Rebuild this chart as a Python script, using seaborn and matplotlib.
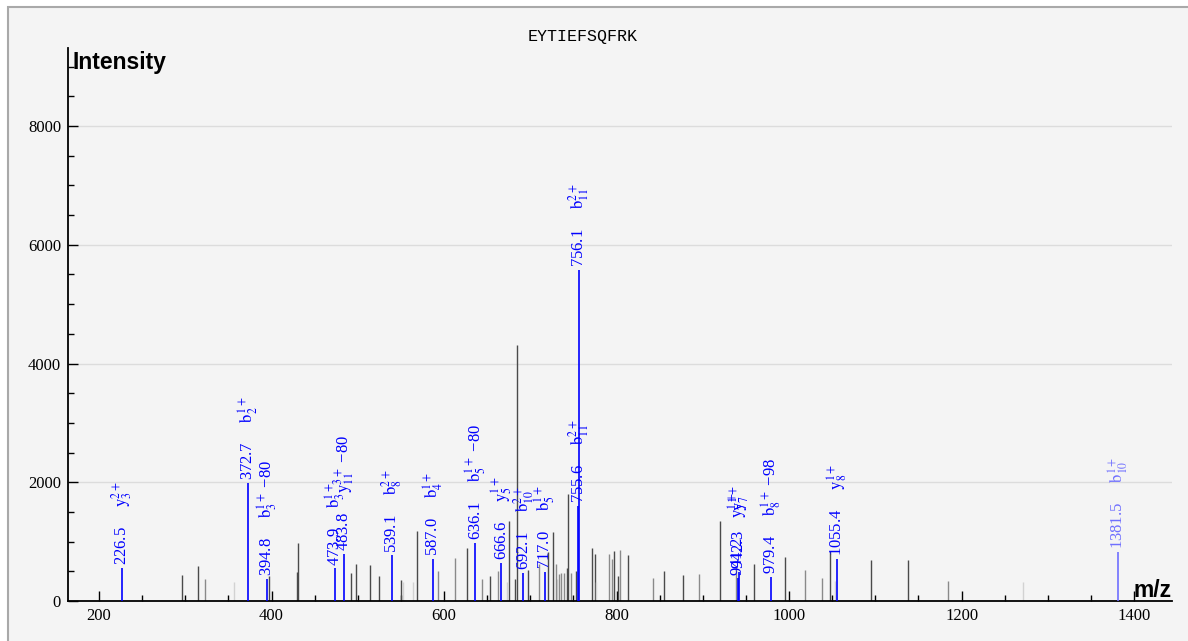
import pandas as pd
import seaborn as sns
from matplotlib import pyplot as plt
from matplotlib.patches import Rectangle
from matplotlib.ticker import MultipleLocator

# annotated fragment ions
ion_mz = [226.5, 372.7, 394.8, 473.9, 483.8, 539.1, 587.0, 636.1, 666.6,
          692.1, 717.0, 755.6, 756.1, 941.2, 942.3, 979.4, 1055.4, 1381.5]
ion_int = [556, 1990, 370, 550, 800, 770, 715, 980, 640,
           470, 495, 1600, 5575, 380, 490, 400, 715, 830]
ion_names = [r"$\mathrm{y}_3^{2+}$", r"$\mathrm{b}_2^{1+}$", r"$\mathrm{b}_3^{1+}$ −80",
             r"$\mathrm{b}_3^{1+}$", r"$\mathrm{y}_{11}^{3+}$ −80", r"$\mathrm{b}_8^{2+}$",
             r"$\mathrm{b}_4^{1+}$", r"$\mathrm{b}_5^{1+}$ −80", r"$\mathrm{y}_5^{1+}$",
             r"$\mathrm{b}_{10}^{2+}$", r"$\mathrm{b}_5^{1+}$", r"$\mathrm{b}_{11}^{2+}$",
             r"$\mathrm{b}_{11}^{2+}$", r"$\mathrm{y}_7^{1+}$", r"$\mathrm{y}_7^{1+}$",
             r"$\mathrm{b}_8^{1+}$ −98", r"$\mathrm{y}_8^{1+}$", r"$\mathrm{b}_{10}^{1+}$"]

# unannotated peaks
peak_mz = [296.6, 314.8, 322.9, 356.0, 397.5, 429.5, 430.7, 492.5, 498.0, 513.8,
           525.0, 550.5, 552.5, 564.4, 569.0, 593.0, 613.0, 626.3, 643.7, 653.7,
           662.3, 673.4, 675.7, 682.3, 685.0, 697.7, 710.1, 721.0, 726.0, 729.5,
           731.4, 733.0, 735.3, 739.0, 742.2, 743.4, 746.8, 752.6, 771.6, 774.7,
           776.6, 791.7, 794.4, 797.5, 802.0, 803.6, 813.7, 842.7, 855.4, 877.5,
           895.7, 920.4, 939.0, 959.8, 995.4, 1018.6, 1038.3, 1047.9, 1053.5, 1094.6,
           1138.4, 1184.0, 1271.0]
peak_int = [433, 585, 371, 326, 416, 490, 977, 472, 629, 601,
            416, 348, 320, 320, 1174, 505, 724, 899, 377, 416,
            505, 325, 1353, 365, 4310, 522, 620, 831, 1168, 617,
            371, 449, 466, 466, 550, 1797, 477, 505, 887, 792,
            325, 792, 702, 848, 421, 860, 775, 393, 505, 432,
            449, 1348, 570, 618, 741, 517, 394, 850, 340, 697,
            685, 337, 320]
peak_shade = ["d", "d", "m", "l", "d", "d", "d", "d", "d", "d",
              "d", "d", "l", "l", "d", "m", "m", "d", "m", "d",
              "m", "l", "d", "d", "d", "d", "m", "d", "d", "m",
              "l", "m", "m", "m", "d", "d", "m", "d", "d", "d",
              "l", "m", "m", "d", "d", "m", "d", "m", "d", "d",
              "m", "d", "m", "d", "d", "m", "m", "d", "l", "d",
              "d", "m", "l"]

ions = pd.DataFrame({"mz": ion_mz, "intensity": ion_int, "name": ion_names})
peaks = pd.DataFrame({"mz": peak_mz, "intensity": peak_int, "shade": peak_shade})
shade_colors = {"d": "#4a4a4a", "m": "#8a8a8a", "l": "#d2d2d2"}

sns.set_style("ticks", {"axes.facecolor": "#f4f4f4", "figure.facecolor": "white"})
plt.rcParams["font.family"] = ["Liberation Serif", "DejaVu Serif"]
plt.rcParams["mathtext.fontset"] = "stix"
plt.rcParams["text.color"] = "black"

W, H = 1188, 641
fig = plt.figure(figsize=(W / 100, H / 100), dpi=100)
fig.add_artist(Rectangle((8 / W, -0.05), 1.1, 1 - 7 / H + 0.05, transform=fig.transFigure,
                         facecolor="#f4f4f4", edgecolor="#a9a9a9", lw=1.5, zorder=-10))

ax = fig.add_axes([68 / W, 40 / H, (1172 - 68) / W, (601 - 48) / H])
ax.set_facecolor("#f4f4f4")

for shade, grp in peaks.groupby("shade"):
    ax.vlines(grp["mz"], 0, grp["intensity"], color=shade_colors[shade], lw=1.0, zorder=2)

for _, r in ions.iterrows():
    col = "#6f6fff" if r["mz"] > 1300 else "blue"
    ax.vlines(r["mz"], 0, r["intensity"], color=col, lw=1.2, zorder=3)
    ax.annotate(f"{r['mz']:.1f}     {r['name']}", xy=(r["mz"], r["intensity"]),
                xytext=(0, 2), textcoords="offset points", rotation=90,
                ha="center", va="bottom", color=col, fontsize=12, zorder=4)

ax.set_xlim(164, 1444)
ax.set_ylim(0, 9314)
ax.set_xticks(range(200, 1401, 200))
ax.set_yticks(range(0, 8001, 2000))
ax.xaxis.set_minor_locator(MultipleLocator(50))
ax.yaxis.set_minor_locator(MultipleLocator(500))
ax.tick_params(which="major", direction="in", length=7, width=1, labelsize=12, pad=5,
               color="black", labelcolor="black")
ax.tick_params(which="minor", direction="in", length=4.5, width=1, color="black")
ax.yaxis.grid(True, color="#dcdcdc", lw=1)
ax.set_axisbelow(True)
sns.despine(ax=ax)
for s in ["left", "bottom"]:
    ax.spines[s].set_color("black")
    ax.spines[s].set_linewidth(1.3)

fig.text(583 / W, 1 - 37 / H, "EYTIEFSQFRK", family="Liberation Mono", fontsize=12,
         ha="center", va="center")
fig.text(73 / W, 1 - 62 / H, "Intensity", family="Liberation Sans", fontweight="bold",
         fontsize=16.5, ha="left", va="center")
fig.text(1172 / W, 1 - 597 / H, "m/z", family="Liberation Sans", fontweight="bold",
         fontsize=16.5, ha="right", va="baseline")

fig.savefig("out.png", dpi=100)
